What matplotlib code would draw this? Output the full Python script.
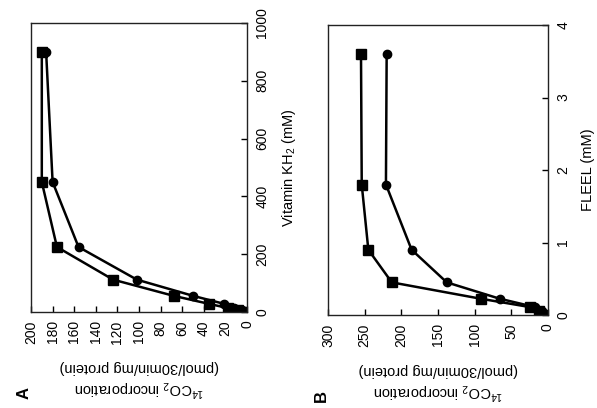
import numpy as np
import matplotlib as mpl
mpl.use('Agg')
import matplotlib.pyplot as plt

plt.rcParams['font.family'] = ['Liberation Sans', 'DejaVu Sans']
plt.rcParams['mathtext.fontset'] = 'custom'
plt.rcParams['mathtext.rm'] = 'Liberation Sans'
plt.rcParams['mathtext.it'] = 'Liberation Sans:italic'

# panel A: vitamin KH2 (mM) vs 14CO2 incorporation
vit_conc = [0, 7, 14, 28, 56, 112, 225, 450, 900]
vit_sq = [0, 8, 18, 35, 68, 124, 176, 190, 190]
vit_ci = [0, 5, 12, 21, 50, 102, 156, 180, 186]

# panel B: FLEEL (mM) vs 14CO2 incorporation
fleel_conc = [0, 0.056, 0.11, 0.225, 0.45, 0.9, 1.8, 3.6]
fleel_sq = [2, 12, 25, 92, 213, 245, 254, 255]
fleel_ci = [0, 8, 18, 66, 138, 186, 221, 220]

inc_label = '$^{14}$CO$_2$ incorporation\n(pmol/30min/mg protein)'

fig = plt.figure(figsize=(5.97, 4.08), dpi=100)
W, H = 597.0, 408.0

def make_axes(x0, x1, y0, y1):
    return fig.add_axes([x0 / W, (H - y1) / H, (x1 - x0) / W, (y1 - y0) / H])

axA = make_axes(31, 247, 23, 312)
axB = make_axes(328, 548, 25, 315)

def style(ax, xmax, xstep, ymax, ystep, ylab, letter):
    ax.set_xlim(xmax, 0)
    ax.set_ylim(0, ymax)
    ax.set_xticks(np.arange(0, xmax + xstep / 2, xstep))
    ax.set_yticks(np.arange(0, ymax + ystep / 2, ystep))
    ax.yaxis.tick_right()
    ax.yaxis.set_label_position('right')
    ax.tick_params(direction='in', length=4, width=1, labelsize=10, pad=6)
    for t in ax.get_xticklabels():
        t.set_rotation(90)
    for t in ax.get_yticklabels():
        t.set_rotation(90)
        t.set_va('center')
    ax.set_xlabel(inc_label, rotation=180, fontsize=10.5, labelpad=12,
                  multialignment='center')
    ax.set_ylabel(ylab, rotation=90, fontsize=10.5, labelpad=8)
    for s in ax.spines.values():
        s.set_linewidth(1)
        s.set_color('#222222')
    ax.text(-0.03, -0.28, letter, transform=ax.transAxes, rotation=90,
            fontsize=12, fontweight='bold', ha='center', va='center')

axA.plot(vit_sq, vit_conc, color='black', lw=1.8, marker='s', ms=7)
axA.plot(vit_ci, vit_conc, color='black', lw=1.8, marker='o', ms=6)
style(axA, 200, 20, 1000, 200, 'Vitamin KH$_2$ (mM)', 'A')

axB.plot(fleel_sq, fleel_conc, color='black', lw=1.8, marker='s', ms=7)
axB.plot(fleel_ci, fleel_conc, color='black', lw=1.8, marker='o', ms=6)
style(axB, 300, 50, 4, 1, 'FLEEL (mM)', 'B')

plt.savefig('out.png', dpi=100)
